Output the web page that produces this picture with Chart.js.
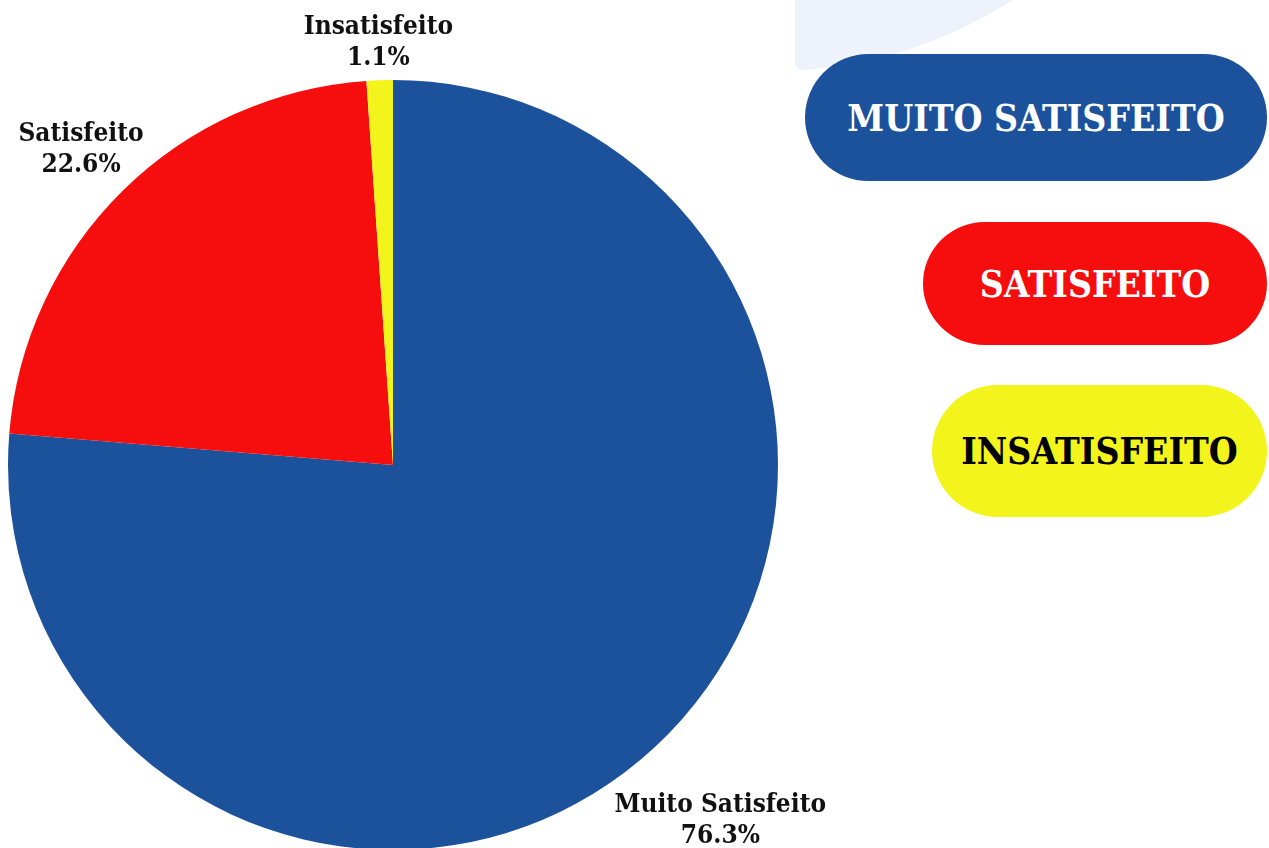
<!DOCTYPE html>
<html>
<head>
<meta charset="utf-8">
<script src="https://cdn.jsdelivr.net/npm/chart.js@4"></script>
<style>
  html, body { margin: 0; padding: 0; background: #fff; overflow: hidden; }
  body { width: 1269px; height: 848px; position: relative; }
  #deco { position: absolute; left: 0; top: 0; }
  #wrap { position: absolute; left: 0; top: 0; width: 1269px; height: 870px; }
  .pill {
    position: absolute; border-radius: 999px; display: flex;
    align-items: center; justify-content: center;
    font-family: "DejaVu Serif Condensed", "DejaVu Serif", serif; font-weight: bold;
  }
</style>
</head>
<body>
<svg id="deco" width="1269" height="848">
  <path d="M795,0 L795,62 Q795,70 805,70 Q915,62 1013,0 Z" fill="#eef3fb"/>
</svg>
<div id="wrap"><canvas id="pie"></canvas></div>
<div class="pill" style="left:805px;top:54px;width:462px;height:127px;background:#1c519c;color:#fff;font-size:37px;">MUITO SATISFEITO</div>
<div class="pill" style="left:923px;top:222px;width:344px;height:123px;background:#f60e0e;color:#fff;font-size:37px;">SATISFEITO</div>
<div class="pill" style="left:932px;top:385px;width:335px;height:132px;background:#f3f41b;color:#000;font-size:37px;">INSATISFEITO</div>
<script>
const categories = ['Muito Satisfeito', 'Satisfeito', 'Insatisfeito'];
const percentages = [76.3, 22.6, 1.1];
const sliceColors = ['#1c519c', '#f60e0e', '#f3f41b'];
const labelGap = [98, 59, 38];

const outsideLabels = {
  id: 'outsideLabels',
  afterDatasetsDraw(chart) {
    const ctx = chart.ctx;
    const meta = chart.getDatasetMeta(0);
    ctx.save();
    ctx.font = 'bold 26px "DejaVu Serif Condensed", "DejaVu Serif", serif';
    ctx.fillStyle = '#111';
    ctx.textAlign = 'center';
    ctx.textBaseline = 'middle';
    meta.data.forEach((arc, i) => {
      const mid = (arc.startAngle + arc.endAngle) / 2;
      const d = arc.outerRadius + labelGap[i];
      const x = arc.x + Math.cos(mid) * d;
      const y = arc.y + Math.sin(mid) * d;
      ctx.fillText(categories[i], x, y - 15);
      ctx.fillText(percentages[i].toFixed(1) + '%', x, y + 16);
    });
    ctx.restore();
  }
};

new Chart(document.getElementById('pie'), {
  type: 'pie',
  data: {
    labels: categories,
    datasets: [{
      data: percentages,
      backgroundColor: sliceColors,
      borderWidth: 0
    }]
  },
  options: {
    responsive: true,
    maintainAspectRatio: false,
    animation: false,
    layout: { padding: { left: 8, right: 491, top: 80, bottom: 20 } },
    plugins: {
      legend: { display: false },
      tooltip: { enabled: false }
    }
  },
  plugins: [outsideLabels]
});
</script>
</body>
</html>
